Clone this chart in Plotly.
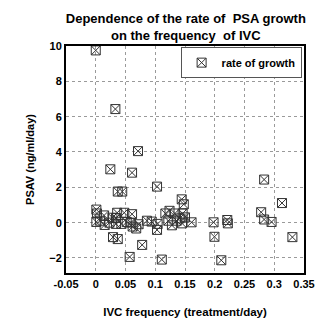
import plotly.graph_objects as go

# IVC frequency (treatment/day) and PSA velocity (ng/ml/day) per patient
ivc_freq = [
    0.000, 0.033, 0.071, 0.0245, 0.061, 0.103, 0.037, 0.0445, 0.1445, 0.148,
    0.029, 0.037, 0.078, 0.057, 0.111,
    0.001, 0.002, 0.014, 0.001, 0.007, 0.015, 0.023, 0.028, 0.034, 0.034,
    0.036, 0.043, 0.048, 0.052, 0.061, 0.059, 0.062, 0.068, 0.072, 0.086,
    0.094, 0.104, 0.103, 0.117, 0.122, 0.124, 0.128, 0.133, 0.136, 0.141,
    0.145, 0.146, 0.150, 0.161,
    0.198, 0.1995, 0.211, 0.221, 0.222, 0.283, 0.313, 0.278, 0.283, 0.2955,
    0.3305,
]
psav = [
    9.75, 6.43, 4.05, 3.02, 2.83, 2.04, 1.76, 1.76, 1.32, 1.04,
    -0.82, -0.93, -1.26, -1.94, -2.09,
    0.74, 0.52, 0.41, 0.04, 0.11, -0.13, 0.00, 0.28, 0.26, -0.07,
    0.56, -0.07, 0.56, 0.04, 0.48, 0.00, -0.22, -0.33, -0.09, 0.11,
    0.06, -0.07, -0.41, 0.52, 0.11, 0.67, -0.15, 0.52, 0.11, 0.24,
    -0.04, 0.52, 0.30, 0.02,
    0.02, -0.80, -2.13, 0.15, -0.04, 2.44, 1.11, 0.59, 0.18, 0.04,
    -0.82,
]

x_ticks = [-0.05, 0, 0.05, 0.1, 0.15, 0.2, 0.25, 0.3, 0.35]
x_tick_text = ["-0.05", "0", "0.05", "0.1", "0.15", "0.2", "0.25", "0.3", "0.35"]
y_ticks = [-2, 0, 2, 4, 6, 8, 10]

font_family = "Liberation Sans, Arial, sans-serif"

fig = go.Figure()
fig.add_trace(go.Scatter(
    x=ivc_freq, y=psav, mode="markers", name="rate of growth",
    marker=dict(symbol="square-x-open", size=9, color="#333333",
                line=dict(width=1, color="#333333")),
))

axis_common = dict(
    showgrid=True, gridcolor="#9a9a9a", griddash="dot", gridwidth=1,
    showline=True, linecolor="black", linewidth=2, mirror=True,
    zeroline=False, ticks="",
    tickfont=dict(family=font_family, size=11, color="black", weight="bold"),
)

fig.update_layout(
    width=336, height=329,
    margin=dict(l=66, r=32, t=46, b=52),
    paper_bgcolor="white", plot_bgcolor="white",
    font=dict(family=font_family, color="black"),
    title=dict(
        text="Dependence of the rate of  PSA growth<br>on the frequency  of IVC",
        x=0.553, xanchor="center", y=0.93, yanchor="top",
        font=dict(family=font_family, size=13, color="black", weight="bold"),
    ),
    xaxis=dict(
        range=[-0.05, 0.35], tickvals=x_ticks, ticktext=x_tick_text,
        title=dict(text="IVC frequency (treatment/day)", standoff=19,
                   font=dict(family=font_family, size=11.5, color="black", weight="bold")),
        **axis_common,
    ),
    yaxis=dict(
        range=[-2.85, 10], tickvals=y_ticks,
        title=dict(text="PSAV (ng/ml/day)", standoff=12,
                   font=dict(family=font_family, size=11, color="black", weight="bold")),
        **axis_common,
    ),
    showlegend=True,
    legend=dict(
        x=0.99, y=0.995, xanchor="right", yanchor="top",
        bgcolor="white", bordercolor="#555555", borderwidth=1,
        font=dict(family=font_family, size=11, color="black", weight="bold"),
    ),
)

fig.write_html("out.html")
